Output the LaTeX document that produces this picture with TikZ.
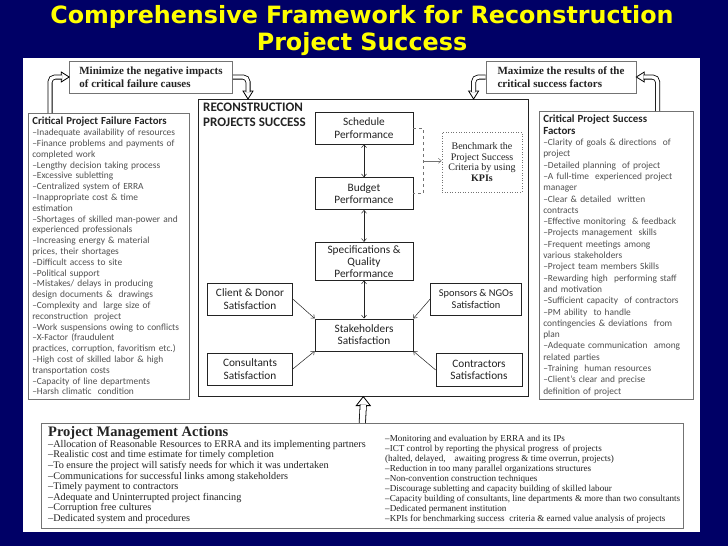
\documentclass[tikz,border=0pt]{standalone}
\usepackage{fontspec}
\setmainfont{Carlito}
\newfontfamily\timesfont{Liberation Serif}
\newfontfamily\headfont{DejaVu Sans}
\usepackage{xcolor}
\definecolor{navy}{RGB}{0,0,102}
\definecolor{gold}{RGB}{255,255,0}
\definecolor{coal}{RGB}{35,35,35}
\definecolor{ash}{RGB}{80,80,80}
\definecolor{steel}{RGB}{115,115,115}
\usepackage{tikz}
\usetikzlibrary{arrows.meta,positioning,calc}

\begin{document}
\begin{tikzpicture}[x=1pt,y=-1pt,
  box/.style={rectangle,draw=coal,fill=white,line width=0.6pt,
              font=\fontsize{11.3}{12.5}\selectfont\color{coal},inner sep=1pt,
              minimum width=98pt,minimum height=32pt,align=center},
  side/.style={rectangle,draw=steel,fill=white,line width=0.6pt,
               font=\fontsize{9.4}{10.8}\selectfont\color{ash},inner sep=4pt,
               text width=153pt,align=left,anchor=north west},
  note/.style={rectangle,draw=steel,fill=white,line width=0.6pt,
               font=\timesfont\bfseries\fontsize{11}{13}\selectfont\color{coal},
               inner sep=3pt,minimum width=163pt,minimum height=32pt,align=left},
  link/.style={draw=coal,line width=0.5pt,
               {Straight Barb[length=3pt,width=5pt]}-{Straight Barb[length=3pt,width=5pt]}},
  feed/.style={draw=coal,line width=0.5pt,-{Straight Barb[length=3pt,width=5pt]}},
  hol/.style={draw=black,double=white,double distance=3.4pt,line width=0.8pt,
              rounded corners=5pt},
  hd/.style={draw=black,fill=white,line width=0.8pt,line join=miter},
]
  \fill[navy] (0,0) rectangle (728,546);
  \fill[white] (23,58) rectangle (700,532);
  \useasboundingbox (0,0) rectangle (728,546);

  \node[font=\headfont\bfseries\fontsize{23.8}{27}\selectfont\color{gold},align=center](T)
    at (362,31) {Comprehensive Framework for Reconstruction\\Project Success};

  \node[note](MN) at (151,77) {Minimize the negative impacts\\of critical failure causes};
  \node[note,minimum width=150pt](MX) at (561,77) {Maximize the results of the\\critical success factors};

  \node[draw=coal,line width=0.6pt,minimum width=330pt,minimum height=297pt,
        anchor=north west](RS) at (198,99) {};
  \node[font=\bfseries\fontsize{13}{15}\selectfont\color{coal},align=left,
        anchor=north west,inner sep=2pt](RT) at (201,101) {RECONSTRUCTION\\PROJECTS SUCCESS};

  \node[box](SP) at (364,128) {Schedule\\Performance};
  \node[box,below=33pt of SP](BP) {Budget\\Performance};
  \node[box,below=32pt of BP,minimum height=38pt,
        font=\fontsize{11.3}{12}\selectfont\color{coal}](QP) {Specifications \&\\Quality\\Performance};
  \node[box,below=38pt of QP](SS) {Stakeholders\\Satisfaction};

  \node[box,minimum width=85pt](CD) at (250,299) {Client \& Donor\\Satisfaction};
  \node[box,minimum width=91pt,font=\fontsize{10.4}{12.5}\selectfont\color{coal}](SN)
    at (476,299) {Sponsors \& NGOs\\Satisfaction};
  \node[box,minimum width=85pt](CS) at (250,369) {Consultants\\Satisfaction};
  \node[box,minimum width=86pt,minimum height=33pt](CT) at (479,370) {Contractors\\Satisfactions};

  \node[rectangle,draw=steel,dotted,line width=0.6pt,minimum width=80pt,minimum height=60pt,
        font=\timesfont\fontsize{10}{10.8}\selectfont\color{coal},align=center](BK)
    at (482,162) {Benchmark the\\Project Success\\Criteria by using\\\textbf{KPIs}};

  \draw[link] (SP) -- (BP);
  \draw[link] (BP) -- (QP);
  \draw[link] (QP) -- (SS);
  \draw[feed] (CD.east) -- (SS.north west);
  \draw[feed] (SN.west) -- (SS.north east);
  \draw[feed] (CS.east) -- (SS.south west);
  \draw[feed] (CT.west) -- (SS.south east);

  \draw[dashed,draw=steel,line width=0.6pt] (SP.east) -- ++(10,0) |- (BP.east);
  \coordinate (DJ) at ($(SP.east)!0.5!(BP.east)+(10,0)$);
  \draw[feed,draw=steel] (DJ) -- (DJ -| BK.west);

  \node[side](FF) at (28,113)
    {{\bfseries\fontsize{10.8}{12}\selectfont\color{coal}Critical Project Failure Factors}\\
     –Inadequate availability of resources\\
     –Finance problems and payments of\\
     completed work\\
     –Lengthy decision taking process\\
     –Excessive subletting\\
     –Centralized system of ERRA\\
     –Inappropriate cost \& time\\
     estimation\\
     –Shortages of skilled man-power and\\
     experienced professionals\\
     –Increasing energy \& material\\
     prices, their shortages\\
     –Difficult access to site\\
     –Political support\\
     –Mistakes/ delays in producing\\
     design documents \&\ \ drawings\\
     –Complexity and\ \ large size of\\
     reconstruction\ \ project\\
     –Work suspensions owing to conflicts\\
     –X-Factor (fraudulent\\
     practices, corruption, favoritism etc.)\\
     –High cost of skilled labor \& high\\
     transportation costs\\
     –Capacity of line departments\\
     –Harsh climatic\ \ condition};

  \node[side,text width=146pt,font=\fontsize{9.4}{11.3}\selectfont\color{ash}](SF) at (539,111)
    {{\bfseries\fontsize{10.9}{11.3}\selectfont\color{coal}Critical Project Success\\Factors}\\
     –Clarity of goals \& directions\ \ of\\
     project\\
     –Detailed planning\ \ of project\\
     –A full-time\ \ experienced project\\
     manager\\
     –Clear \& detailed\ \ written\\
     contracts\\
     –Effective monitoring\ \ \& feedback\\
     –Projects management\ \ skills\\
     –Frequent meetings among\\
     various stakeholders\\
     –Project team members Skills\\
     –Rewarding high\ \ performing staff\\
     and motivation\\
     –Sufficient capacity\ \ of contractors\\
     –PM ability\ \ to handle\\
     contingencies \& deviations\ \ from\\
     plan\\
     –Adequate communication\ \ among\\
     related parties\\
     –Training\ \ human resources\\
     –Client’s clear and precise\\
     definition of project};

  \node[draw=steel,line width=0.6pt,minimum width=642pt,minimum height=105pt,
        anchor=north west](PM) at (41,423) {};
  \node[anchor=north west,inner sep=0pt,align=left,
        font=\timesfont\fontsize{10.2}{10.6}\selectfont\color{coal}](PL) at (48,426)
    {{\bfseries\fontsize{14.5}{15}\selectfont Project Management Actions}\\[0.5pt]
     –Allocation of Reasonable Resources to ERRA and its implementing partners\\
     –Realistic cost and time estimate for timely completion\\
     –To ensure the project will satisfy needs for which it was undertaken\\
     –Communications for successful links among stakeholders\\
     –Timely payment to contractors\\
     –Adequate and Uninterrupted project financing\\
     –Corruption free cultures\\
     –Dedicated system and procedures};
  \node[anchor=north west,inner sep=0pt,align=left,
        font=\timesfont\fontsize{9.1}{10}\selectfont\color{coal}](PR) at (385,435)
    {–Monitoring and evaluation by ERRA and its IPs\\
     –ICT control by reporting the physical progress\ \ of projects\\
     (halted, delayed,\quad awaiting progress \& time overrun, projects)\\
     –Reduction in too many parallel organizations structures\\
     –Non-convention construction techniques\\
     –Discourage subletting and capacity building of skilled labour\\
     –Capacity building of consultants, line departments \& more than two consultants\\
     –Dedicated permanent institution\\
     –KPIs for benchmarking success\ \ criteria \& earned value analysis of projects};

  \filldraw[hd] (MN.west) -- ++(-8,-5) -- ++(0,10) -- cycle;
  \draw[hol] ($(FF.north west)+(22,0)$) |- ($(MN.west)+(-7,0)$);
  \filldraw[hd] ($(RS.north west)+(50,0)$) -- ++(-5,-8) -- ++(10,0) -- cycle;
  \draw[hol] (MN.east) -| ($(RS.north west)+(50,-7)$);
  \filldraw[hd] (MX.east) -- ++(8,-5) -- ++(0,10) -- cycle;
  \draw[hol] ($(SF.north east)+(-36,0)$) |- ($(MX.east)+(7,0)$);
  \filldraw[hd] ($(RS.north east)+(-55,0)$) -- ++(-5,-8) -- ++(10,0) -- cycle;
  \draw[hol] (MX.west) -| ($(RS.north east)+(-55,-7)$);
  \filldraw[hd] (RS.south) -- ++(-7,9) -- ++(14,0) -- cycle;
  \draw[hol,double distance=5.5pt] (PM.north) -- ($(RS.south)+(0,8)$);
\end{tikzpicture}
\end{document}
